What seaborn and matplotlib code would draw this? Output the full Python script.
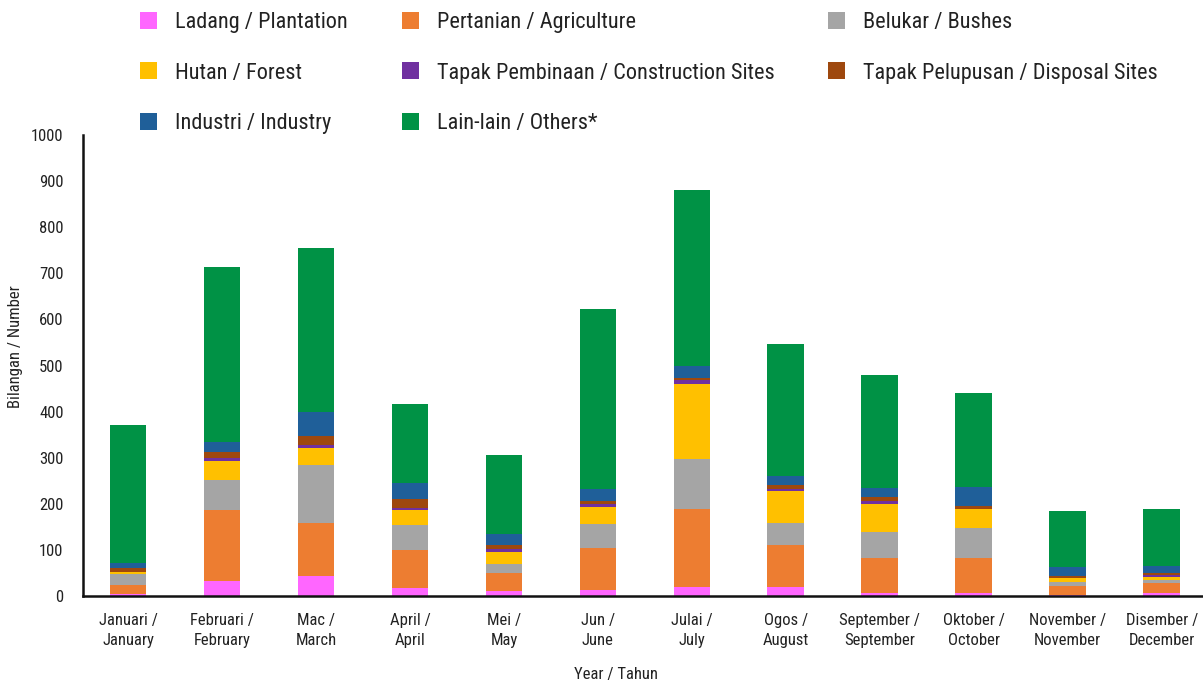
import matplotlib
matplotlib.use("Agg")
import matplotlib.pyplot as plt
from matplotlib import font_manager
from matplotlib.patches import Patch
import numpy as np
import pandas as pd
import seaborn as sns

months = ["Januari /\nJanuary", "Februari /\nFebruary", "Mac /\nMarch", "April /\nApril",
          "Mei /\nMay", "Jun /\nJune", "Julai /\nJuly", "Ogos /\nAugust",
          "September /\nSeptember", "Oktober /\nOctober", "November /\nNovember",
          "Disember /\nDecember"]

series_names = ["Ladang / Plantation", "Pertanian / Agriculture", "Belukar / Bushes",
                "Hutan / Forest", "Tapak Pembinaan / Construction Sites",
                "Tapak Pelupusan / Disposal Sites", "Industri / Industry",
                "Lain-lain / Others*"]

ladang = [5, 32, 44, 18, 11, 13, 20, 20, 7, 7, 2, 7]
pertanian = [19, 154, 114, 82, 39, 92, 169, 91, 76, 76, 20, 22]
belukar = [24, 65, 126, 54, 20, 51, 108, 48, 56, 65, 9, 6]
hutan = [4, 41, 36, 33, 25, 37, 163, 69, 61, 41, 7, 7]
pembinaan = [1, 7, 7, 4, 7, 6, 8, 5, 6, 0, 1, 4]
pelupusan = [8, 13, 20, 19, 8, 7, 5, 7, 9, 7, 4, 4]
industri = [10, 22, 52, 35, 25, 26, 26, 21, 20, 40, 20, 14]
lain_lain = [301, 380, 356, 171, 170, 391, 382, 285, 244, 205, 121, 124]

colors = ["#FF66FF", "#ED7D31", "#A5A5A5", "#FFC000", "#7030A0", "#9E480E",
          "#1F5F99", "#009245"]

sns.set_theme(style="white")

# Prefer a narrow sans face for the labels
fonts = font_manager.fontManager.ttflist
names = {f.name for f in fonts}
stretch = "normal"
if "Roboto Condensed" in names:
    family = "Roboto Condensed"
elif "Liberation Sans Narrow" in names:
    family = "Liberation Sans Narrow"
elif any(f.name == "DejaVu Sans" and str(f.stretch) in ("condensed", "semi-condensed", "600", "700")
         for f in fonts):
    family = "DejaVu Sans"
    stretch = "condensed"
else:
    family = "DejaVu Sans"
plt.rcParams["font.family"] = [family, "DejaVu Sans"]
plt.rcParams["font.stretch"] = stretch
narrow = family != "DejaVu Sans" or stretch == "condensed"
scale = 1.0 if narrow else 0.9

values = [ladang, pertanian, belukar, hutan, pembinaan, pelupusan, industri, lain_lain]
df = pd.DataFrame({name: vals for name, vals in zip(series_names, values)})
df["month"] = months
cumulative = df[series_names].cumsum(axis=1)

fig = plt.figure(figsize=(12.03, 6.84), dpi=100)
ax = fig.add_axes([83 / 1203, 1 - 596 / 684, 1120 / 1203, 461 / 684])

# Stacked bars: draw running totals from the top layer down so each layer covers the next
for name, col in reversed(list(zip(series_names, colors))):
    sns.barplot(x=df["month"], y=cumulative[name], color=col, width=0.39,
                saturation=1, ax=ax, linewidth=0)

tick_fs = 12 * scale
ax.set_ylim(0, 1000)
ax.set_xlim(-0.48, 11.44)
ax.set_yticks(np.arange(0, 1001, 100))
ax.tick_params(axis="y", labelsize=tick_fs, length=0, pad=14, colors="#222222")
ax.tick_params(axis="x", labelsize=tick_fs, length=0, pad=12, colors="#222222")
for lbl in ax.get_xticklabels():
    lbl.set_horizontalalignment("center")
    lbl.set_multialignment("center")
    lbl.set_linespacing(1.45)

for side in ["top", "right"]:
    ax.spines[side].set_visible(False)
for side in ["left", "bottom"]:
    ax.spines[side].set_color("#111111")
    ax.spines[side].set_linewidth(1.8)

ax.set_xlabel("Year / Tahun", fontsize=tick_fs, color="#222222")
ax.xaxis.set_label_coords(0.476, -0.154)
ax.set_ylabel("Bilangan / Number", fontsize=tick_fs, color="#222222")
ax.yaxis.set_label_coords(-0.054, 0.54)

# Legend fills column by column; order the entries so rows read left to right
order = [0, 3, 6, 1, 4, 7, 2, 5]
handles = [Patch(facecolor=colors[i], edgecolor="none") for i in order]
labels = [series_names[i] for i in order]
leg = fig.legend(handles, labels, ncol=3, loc="upper left",
                 bbox_to_anchor=(120 / 1203, 1.012), frameon=False, fontsize=16 * scale,
                 handlelength=0.77, handleheight=0.8, handletextpad=0.8,
                 columnspacing=2.43, labelspacing=1.32)
for t in leg.get_texts():
    t.set_color("#222222")

fig.savefig("out.png", dpi=100)
